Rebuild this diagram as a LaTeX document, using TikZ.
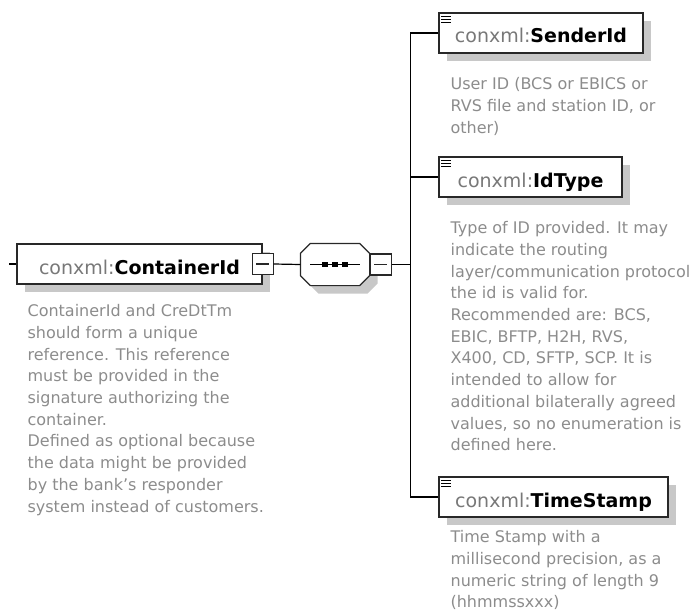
\documentclass[tikz,border=0pt]{standalone}
\usepackage{fontspec}
\setmainfont{DejaVu Sans}
\usetikzlibrary{positioning,shadows}
\definecolor{descgray}{RGB}{140,140,140}
\definecolor{prefixgray}{RGB}{120,120,120}
\definecolor{shadowgray}{RGB}{200,200,200}
\definecolor{edgegray}{RGB}{40,40,40}
\newcommand{\elname}[1]{{\color{prefixgray}conxml:}\textbf{#1}}
% outline of the sequence compositor, shifted by (#1,#2)
\newcommand{\seqpath}[2]{([shift={(#1+10,#2)}]seq.north west) -- ([shift={(#1-10,#2)}]seq.north east)
  -- ([shift={(#1,#2+10)}]seq.north east) -- ([shift={(#1,#2-10)}]seq.south east)
  -- ([shift={(#1-10,#2)}]seq.south east) -- ([shift={(#1+10,#2)}]seq.south west)
  -- ([shift={(#1,#2-10)}]seq.south west) -- ([shift={(#1,#2+10)}]seq.north west) -- cycle}

\begin{document}
\begin{tikzpicture}[
    x=1pt, y=-1pt,
    line width=1.2pt,
    elem/.style={draw=edgegray, fill=white, minimum height=40pt, inner sep=0pt,
      text height=20pt, text depth=0pt, font=\fontsize{19}{22}\selectfont,
      drop shadow={shadow xshift=8pt, shadow yshift=-8pt, fill=shadowgray, opacity=1}},
    toggle/.style={draw=edgegray, fill=white, minimum size=21pt, inner sep=0pt,
      path picture={\draw[line width=1.2pt]
        ([xshift=4pt]path picture bounding box.west) --
        ([xshift=-4pt]path picture bounding box.east);}},
    desc/.style={text=descgray, align=left, inner sep=0pt, anchor=north west,
      font=\fontsize{16}{21.7}\selectfont}
  ]
    \useasboundingbox (0,0) rectangle (692,615);

    % root element and its sequence
    \node[elem, minimum width=245pt] (cid) at (139.5,264) {\elname{ContainerId}};
    \node[toggle] (cidtog) at (cid.east) {};
    \node[minimum width=68pt, minimum height=41pt, inner sep=0pt] (seq) at (335,264.5) {};
    \fill[shadowgray] \seqpath{8}{8};
    \draw[draw=edgegray, fill=white] \seqpath{0}{0};
    \node[toggle, anchor=west] (seqtog) at (seq.east) {};

    % children
    \node[elem, minimum width=204pt] (snd) at (541,33) {\elname{SenderId}};
    \node[elem, minimum width=183pt] (idt) at (530.5,177) {\elname{IdType}};
    \node[elem, minimum width=229pt] (tst) at (553.5,497) {\elname{TimeStamp}};

    \draw (seq.center) +(-25,0) -- +(25,0);
    \foreach \dx in {-10,0,10}
      \fill ([xshift=\dx pt]seq.center) +(-2.6,-2.6) rectangle +(2.6,2.6);

    \foreach \n in {snd,idt,tst}
      \foreach \dy in {4,7,10}
        \draw[line width=1.4pt] ([shift={(3,\dy)}]\n.north west) -- ++(10,0);

    % connectors
    \draw (cid.west) -- ++(-7,0);
    \draw (cidtog.east) -- (seq.west);
    \draw (seqtog.east) -- ++(19,0) coordinate (hub);
    \draw (hub) |- (snd.west);
    \draw (hub) |- (idt.west);
    \draw (hub) |- (tst.west);

    % annotations
    \node[desc] (cidtxt) at (27,304) {ContainerId and CreDtTm\\should form a unique\\reference. This reference\\must be provided in the\\signature authorizing the\\container.\\Defined as optional because\\the data might be provided\\by the bank's responder\\system instead of customers.};
    \node[desc] (sndtxt) at (450,77) {User ID (BCS or EBICS or\\RVS file and station ID, or\\other)};
    \node[desc] (idttxt) at (450,221) {Type of ID provided. It may\\indicate the routing\\layer/communication protocol\\the id is valid for.\\Recommended are: BCS,\\EBIC, BFTP, H2H, RVS,\\X400, CD, SFTP, SCP. It is\\intended to allow for\\additional bilaterally agreed\\values, so no enumeration is\\defined here.};
    \node[desc] (tsttxt) at (450,530) {Time Stamp with a\\millisecond precision, as a\\numeric string of length 9\\(hhmmssxxx)};
  \end{tikzpicture}
\end{document}
